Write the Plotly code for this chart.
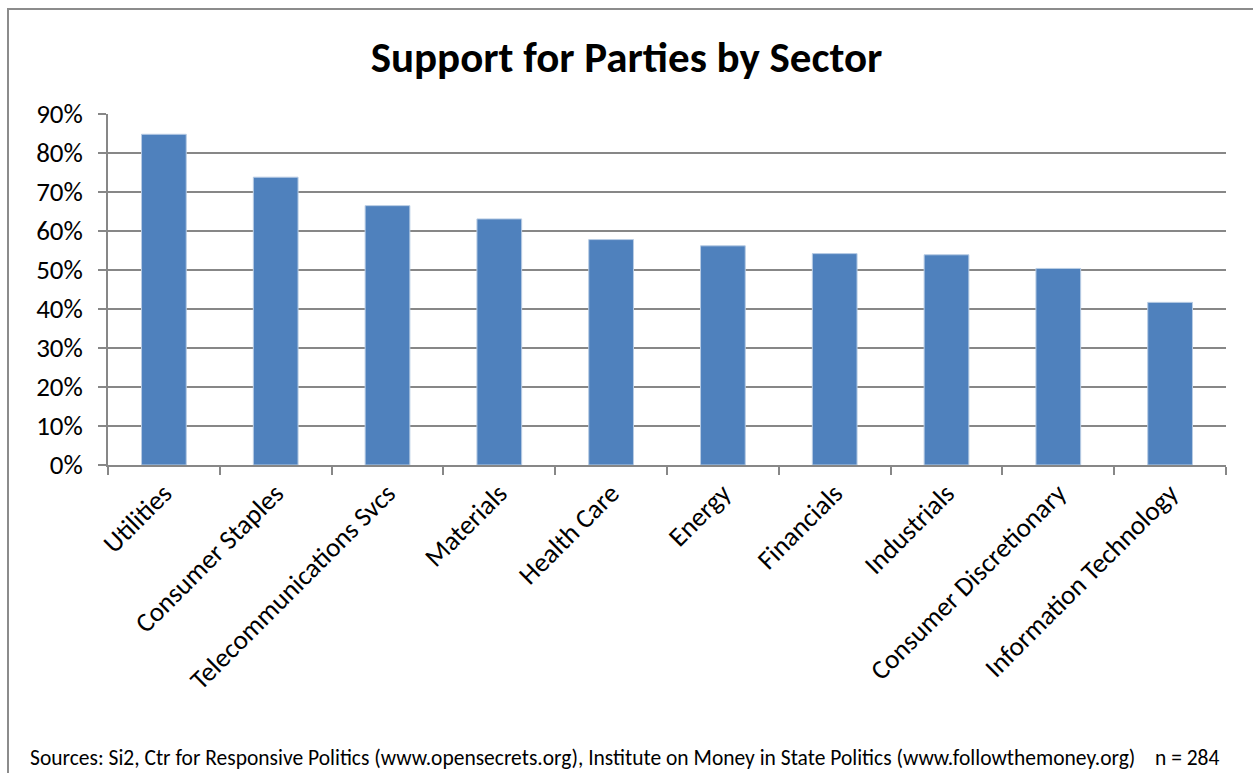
import plotly.graph_objects as go

# Share of contributions by sector
sectors = [
    "Utilities", "Consumer Staples", "Telecommunications Svcs", "Materials",
    "Health Care", "Energy", "Financials", "Industrials",
    "Consumer Discretionary", "Information Technology",
]
support = [0.848, 0.738, 0.665, 0.631, 0.578, 0.562, 0.542, 0.539, 0.504, 0.417]

y_ticks = [0, 0.1, 0.2, 0.3, 0.4, 0.5, 0.6, 0.7, 0.8, 0.9]
y_labels = ["0%", "10%", "20%", "30%", "40%", "50%", "60%", "70%", "80%", "90%"]

W, H = 1253, 773
L, R, T, B = 108, 27, 114, 308
pw, ph = W - L - R, H - T - B

def px_x(p):
    return (p - L) / pw

def px_y(p):
    return 1 - (p - T) / ph

FONT = "Carlito, Lato, sans-serif"
GRID = "#878787"
TICK_SIZE = 27

fig = go.Figure(
    go.Bar(
        x=sectors,
        y=support,
        marker=dict(color="#4F81BD", line=dict(color="#B8CCE4", width=1)),
        hoverinfo="x+y",
    )
)

fig.update_layout(
    width=W,
    height=H,
    margin=dict(l=L, r=R, t=T, b=B, autoexpand=False),
    paper_bgcolor="white",
    plot_bgcolor="white",
    bargap=0.6,
    showlegend=False,
    font=dict(family=FONT, color="black", size=TICK_SIZE),
    title=dict(
        text="<b>Support for Parties by Sector</b>",
        x=0.5,
        xanchor="center",
        y=1 - 57 / H,
        yanchor="middle",
        font=dict(family=FONT, size=43, color="black"),
    ),
    xaxis=dict(
        type="category",
        showgrid=False,
        showline=True,
        linecolor=GRID,
        linewidth=1.5,
        ticks="outside",
        tickson="boundaries",
        ticklen=8,
        tickcolor=GRID,
        tickwidth=1.5,
        tickangle=-45,
        tickfont=dict(family=FONT, size=TICK_SIZE, color="black"),
    ),
    yaxis=dict(
        range=[0, 0.9],
        tickvals=y_ticks,
        ticktext=y_labels,
        showgrid=True,
        gridcolor=GRID,
        gridwidth=1.5,
        showline=True,
        linecolor=GRID,
        linewidth=1.5,
        ticks="outside",
        ticklen=8,
        tickcolor=GRID,
        tickwidth=1.5,
        ticklabelstandoff=10,
        zeroline=False,
        tickfont=dict(family=FONT, size=TICK_SIZE, color="black"),
    ),
    shapes=[
        dict(
            type="rect",
            xref="paper",
            yref="paper",
            x0=px_x(8),
            x1=px_x(1270),
            y0=px_y(790),
            y1=px_y(9),
            line=dict(color="#8C8C8C", width=2),
            fillcolor="rgba(0,0,0,0)",
            layer="below",
        )
    ],
    annotations=[
        dict(
            text="Sources: Si2, Ctr for Responsive Politics (www.opensecrets.org), "
                 "Institute on Money in State Politics (www.followthemoney.org)",
            xref="paper",
            yref="paper",
            x=px_x(28),
            y=px_y(758),
            xanchor="left",
            yanchor="middle",
            showarrow=False,
            font=dict(family=FONT, size=21.5, color="black"),
        ),
        dict(
            text="n = 284",
            xref="paper",
            yref="paper",
            x=px_x(1222),
            y=px_y(758),
            xanchor="right",
            yanchor="middle",
            showarrow=False,
            font=dict(family=FONT, size=21.5, color="black"),
        ),
    ],
)

fig.write_html("out.html")
